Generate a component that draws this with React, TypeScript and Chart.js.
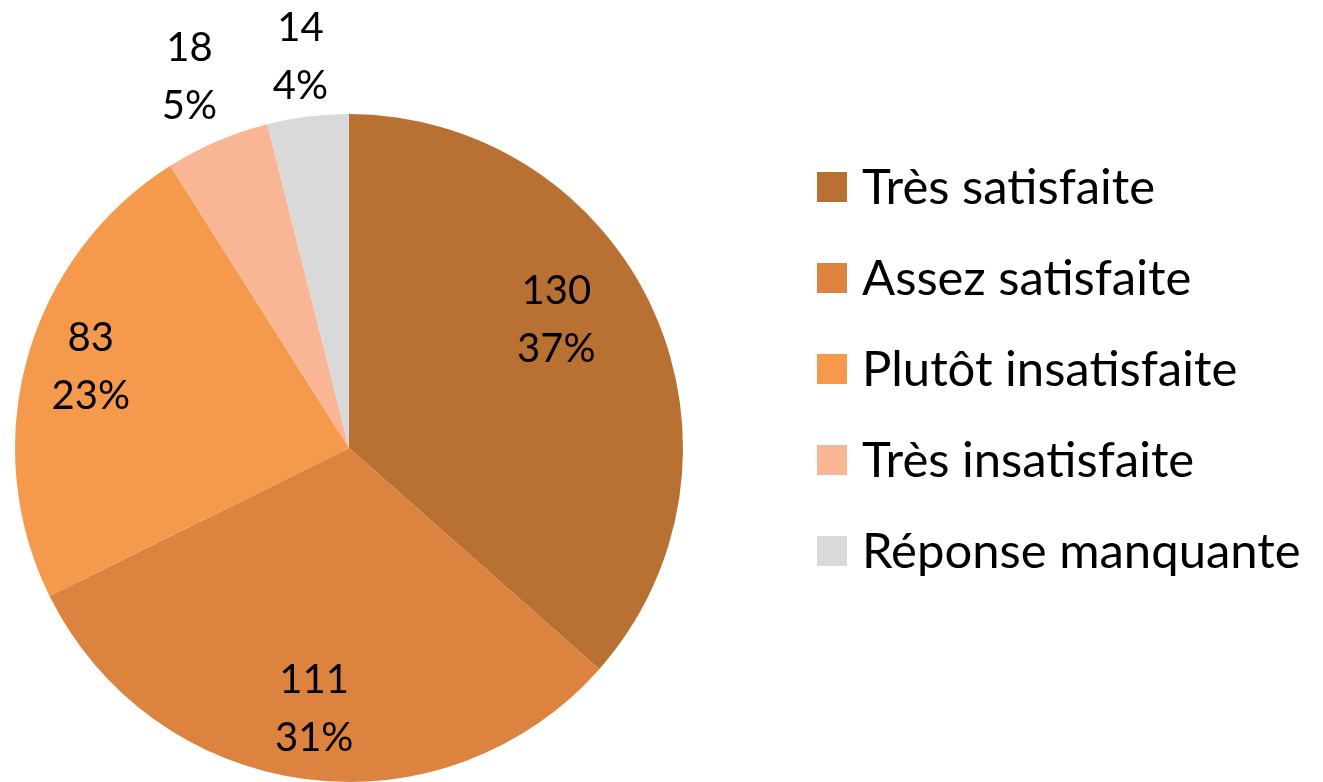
import React, { useEffect, useRef } from "react";
import { Chart, registerables } from "chart.js";

Chart.register(...registerables);

const categories = ["Très satisfaite", "Assez satisfaite", "Plutôt insatisfaite", "Très insatisfaite", "Réponse manquante"];
const counts = [130, 111, 83, 18, 14];
const percentLabels = ["37%", "31%", "23%", "5%", "4%"];
const colors = ["#B87133", "#DC843F", "#F59A4C", "#F8B695", "#D9D9D9"];

const labelRadius = [0.73, 0.79, 0.81, 1.21, 1.18];
const labelAngleShift = [-7.5, 0, 1.7, 0, 0];
const FONT = "Lato, 'Open Sans', sans-serif";
const FONT_SIZE = 40;
const LEGEND_FONT_SIZE = 49;

const labelPlugin = {
  id: "customLabels",
  afterDraw(chart: any) {
    const ctx = chart.ctx;
    const meta = chart.getDatasetMeta(0);
    ctx.save();
    ctx.fillStyle = "#000";
    ctx.font = `${FONT_SIZE}px ${FONT}`;
    ctx.textAlign = "center";
    ctx.textBaseline = "middle";
    meta.data.forEach((arc: any, i: number) => {
      const p = arc.getProps(["x", "y", "startAngle", "endAngle", "outerRadius"], true);
      const mid = (p.startAngle + p.endAngle) / 2 + (labelAngleShift[i] * Math.PI) / 180;
      const r = p.outerRadius * labelRadius[i];
      const cx = p.x + Math.cos(mid) * r;
      const cy = p.y + Math.sin(mid) * r;
      ctx.fillText(String(counts[i]), cx, cy - 29);
      ctx.fillText(percentLabels[i], cx, cy + 29);
    });
    // legend
    const lx = 817;
    const ly0 = 187;
    const gap = 91;
    categories.forEach((c, i) => {
      const y = ly0 + i * gap;
      ctx.fillStyle = colors[i];
      ctx.fillRect(lx, y - 15, 30, 30);
      ctx.fillStyle = "#000";
      ctx.textAlign = "left";
      ctx.font = `${LEGEND_FONT_SIZE}px ${FONT}`;
      ctx.fillText(c, lx + 45, y + 1);
    });
    ctx.restore();
  },
};

export default function App() {
  const ref = useRef<HTMLCanvasElement>(null);
  useEffect(() => {
    document.body.style.margin = "0";
    const chart = new Chart(ref.current!, {
      type: "pie",
      data: {
        labels: categories,
        datasets: [{ data: counts, backgroundColor: colors, borderWidth: 0 }],
      },
      options: {
        animation: false,
        responsive: false,
        layout: { padding: { top: 114, left: 15, right: 640, bottom: 18 } },
        plugins: { legend: { display: false }, tooltip: { enabled: false } },
      },
      plugins: [labelPlugin],
    });
    return () => chart.destroy();
  }, []);
  return (
    <div style={{ position: "fixed", left: 0, top: 0, width: 1323, height: 800, background: "#fff" }}>
      <canvas ref={ref} width={1323} height={800} style={{ width: 1323, height: 800 }} />
    </div>
  );
}
